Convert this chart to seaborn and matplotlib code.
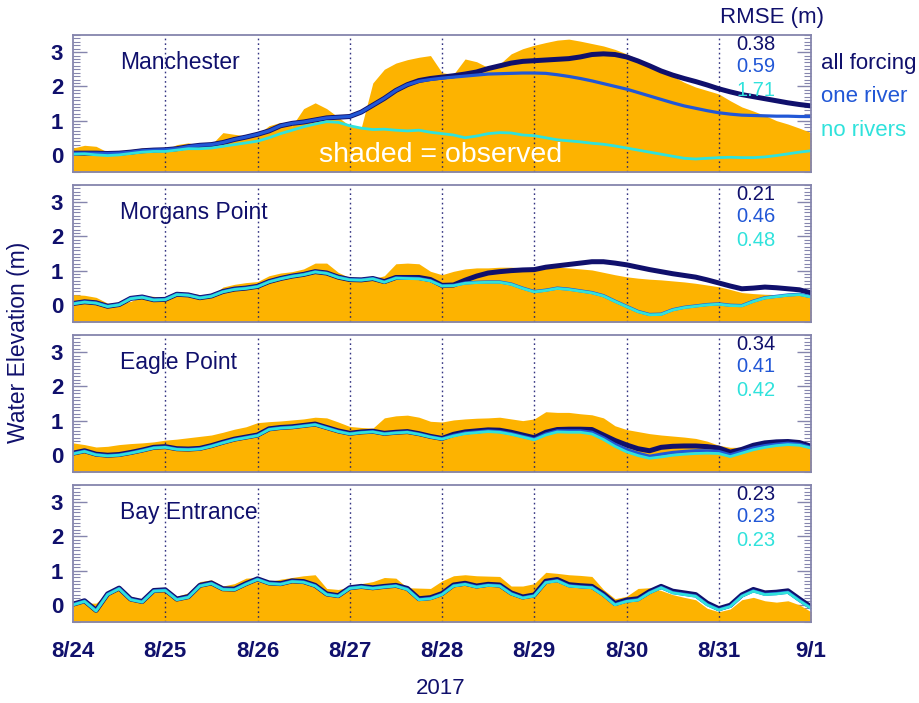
import numpy as np
import pandas as pd
import matplotlib
matplotlib.use("Agg")
import matplotlib.pyplot as plt
import seaborn as sns
from matplotlib.ticker import MultipleLocator

# ---------------------------------------------------------------- data
# 3-hourly samples, in days since 8/24 00:00 (2017)
days = np.arange(65) / 8.0
day_labels = ["8/24", "8/25", "8/26", "8/27", "8/28", "8/29", "8/30", "8/31", "9/1"]

stations = ["Manchester", "Morgans Point", "Eagle Point", "Bay Entrance"]
runs = ["all forcing", "one river", "no rivers"]

rmse_all = [0.38, 0.21, 0.34, 0.23]
rmse_one = [0.59, 0.46, 0.41, 0.23]
rmse_none = [1.71, 0.48, 0.42, 0.23]

# Manchester (m)
man_obs = [0.20, 0.28, 0.25, 0.08, 0.05, 0.15, 0.20, 0.18, 0.15, 0.30, 0.35, 0.28, 0.30,
           0.65, 0.60, 0.55, 0.60, 0.85, 0.95, 0.85, 1.35, 1.52, 1.35, 1.10, 0.85, 0.80,
           2.10, 2.50, 2.68, 2.78, 2.85, 2.90, 2.40, 2.35, 2.80, 2.72, 2.55, 2.65, 2.95,
           3.10, 3.20, 3.28, 3.35, 3.38, 3.32, 3.25, 3.18, 3.08, 2.95, 2.80, 2.62, 2.45,
           2.30, 2.12, 1.98, 1.88, 1.78, 1.58, 1.40, 1.28, 1.15, 1.00, 0.90, 0.78, 0.65]
man_all = [0.05, 0.05, 0.05, 0.04, 0.05, 0.08, 0.12, 0.14, 0.15, 0.18, 0.24, 0.28, 0.30,
           0.36, 0.45, 0.52, 0.60, 0.70, 0.85, 0.92, 0.96, 1.02, 1.08, 1.10, 1.12, 1.25,
           1.45, 1.65, 1.88, 2.05, 2.17, 2.23, 2.27, 2.31, 2.36, 2.42, 2.52, 2.60, 2.68,
           2.73, 2.75, 2.77, 2.79, 2.81, 2.86, 2.93, 2.95, 2.93, 2.86, 2.74, 2.60, 2.45,
           2.33, 2.23, 2.14, 2.04, 1.93, 1.84, 1.76, 1.70, 1.64, 1.58, 1.52, 1.47, 1.43]
man_one = [0.05, 0.05, 0.05, 0.04, 0.05, 0.08, 0.12, 0.14, 0.15, 0.18, 0.24, 0.28, 0.30,
           0.36, 0.45, 0.52, 0.60, 0.70, 0.85, 0.92, 0.96, 1.02, 1.08, 1.10, 1.12, 1.25,
           1.45, 1.65, 1.88, 2.05, 2.15, 2.20, 2.24, 2.27, 2.30, 2.33, 2.36, 2.37, 2.38,
           2.39, 2.39, 2.38, 2.34, 2.29, 2.23, 2.16, 2.08, 2.00, 1.92, 1.82, 1.72, 1.62,
           1.52, 1.43, 1.36, 1.29, 1.23, 1.19, 1.16, 1.15, 1.14, 1.13, 1.13, 1.12, 1.12]
man_none = [0.02, 0.03, 0.00, -0.02, 0.00, 0.04, 0.08, 0.10, 0.10, 0.14, 0.18, 0.18, 0.20,
            0.25, 0.30, 0.35, 0.40, 0.50, 0.62, 0.72, 0.82, 0.90, 0.97, 0.95, 0.85, 0.78,
            0.74, 0.75, 0.72, 0.70, 0.72, 0.66, 0.62, 0.58, 0.50, 0.55, 0.62, 0.65, 0.64,
            0.58, 0.56, 0.50, 0.44, 0.41, 0.38, 0.34, 0.31, 0.26, 0.20, 0.14, 0.08, 0.02,
            -0.04, -0.10, -0.12, -0.10, -0.08, -0.07, -0.08, -0.08, -0.06, -0.02, 0.03, 0.08, 0.12]

# Morgans Point (m)
mor_obs = [0.30, 0.28, 0.22, 0.05, 0.05, 0.10, 0.25, 0.25, 0.17, 0.30, 0.35, 0.30, 0.25,
           0.52, 0.60, 0.65, 0.68, 0.85, 0.93, 0.97, 1.05, 1.22, 1.22, 0.95, 0.79, 0.78,
           0.76, 0.85, 1.20, 1.22, 1.20, 0.98, 0.88, 0.98, 1.05, 1.08, 1.08, 1.10, 1.10,
           1.08, 1.10, 1.10, 1.10, 1.08, 1.05, 1.02, 0.95, 0.88, 0.82, 0.78, 0.75, 0.73,
           0.70, 0.67, 0.63, 0.58, 0.53, 0.45, 0.36, 0.33, 0.31, 0.30, 0.30, 0.30, 0.30]
mor_all = [0.04, 0.09, 0.06, -0.04, 0.01, 0.19, 0.23, 0.15, 0.16, 0.31, 0.29, 0.21, 0.26,
           0.39, 0.46, 0.49, 0.54, 0.68, 0.77, 0.84, 0.89, 0.97, 0.93, 0.81, 0.74, 0.73,
           0.77, 0.68, 0.80, 0.80, 0.80, 0.74, 0.57, 0.58, 0.72, 0.84, 0.93, 0.97, 1.00,
           1.02, 1.03, 1.10, 1.14, 1.18, 1.22, 1.26, 1.26, 1.22, 1.17, 1.10, 1.03, 0.97,
           0.91, 0.86, 0.81, 0.73, 0.64, 0.55, 0.47, 0.49, 0.52, 0.50, 0.47, 0.44, 0.35]
mor_one = [0.04, 0.09, 0.06, -0.04, 0.01, 0.19, 0.23, 0.15, 0.16, 0.31, 0.29, 0.21, 0.26,
           0.39, 0.46, 0.49, 0.54, 0.68, 0.77, 0.84, 0.89, 0.97, 0.93, 0.81, 0.74, 0.73,
           0.77, 0.67, 0.79, 0.78, 0.77, 0.71, 0.56, 0.57, 0.64, 0.66, 0.67, 0.67, 0.61,
           0.49, 0.39, 0.43, 0.49, 0.46, 0.41, 0.36, 0.27, 0.11, -0.04, -0.19, -0.28, -0.27,
           -0.14, -0.07, -0.03, 0.01, 0.03, -0.01, -0.02, 0.11, 0.21, 0.25, 0.29, 0.31, 0.24]
mor_none = [0.03, 0.08, 0.05, -0.05, 0.00, 0.18, 0.22, 0.14, 0.15, 0.30, 0.28, 0.20, 0.25,
            0.38, 0.45, 0.48, 0.53, 0.67, 0.76, 0.83, 0.88, 0.96, 0.92, 0.80, 0.73, 0.72,
            0.76, 0.66, 0.78, 0.77, 0.76, 0.70, 0.55, 0.56, 0.63, 0.65, 0.66, 0.66, 0.60,
            0.48, 0.38, 0.42, 0.48, 0.45, 0.40, 0.35, 0.26, 0.10, -0.05, -0.20, -0.29, -0.28,
            -0.15, -0.08, -0.04, 0.00, 0.02, -0.02, -0.03, 0.10, 0.20, 0.24, 0.28, 0.30, 0.23]

# Eagle Point (m)
eag_obs = [0.35, 0.30, 0.23, 0.25, 0.30, 0.33, 0.35, 0.38, 0.43, 0.46, 0.50, 0.54, 0.58,
           0.66, 0.75, 0.82, 0.94, 0.97, 0.99, 1.02, 1.05, 1.10, 1.08, 0.96, 0.83, 0.80,
           0.78, 1.08, 1.14, 1.16, 1.10, 0.98, 0.96, 1.02, 1.05, 1.07, 1.08, 1.10, 1.05,
           1.00, 1.05, 1.26, 1.24, 1.24, 1.20, 1.17, 1.08, 0.85, 0.74, 0.68, 0.62, 0.58,
           0.55, 0.52, 0.48, 0.40, 0.28, 0.22, 0.22, 0.26, 0.30, 0.33, 0.35, 0.33, 0.25]
eag_all = [0.05, 0.12, 0.02, -0.01, 0.01, 0.07, 0.14, 0.22, 0.24, 0.18, 0.17, 0.19, 0.27,
           0.37, 0.46, 0.52, 0.58, 0.76, 0.80, 0.82, 0.86, 0.90, 0.80, 0.70, 0.63, 0.67,
           0.69, 0.63, 0.66, 0.68, 0.62, 0.54, 0.48, 0.60, 0.67, 0.70, 0.73, 0.72, 0.66,
           0.58, 0.50, 0.66, 0.74, 0.75, 0.75, 0.74, 0.58, 0.42, 0.29, 0.18, 0.12, 0.22,
           0.25, 0.26, 0.26, 0.24, 0.20, 0.08, 0.16, 0.28, 0.35, 0.38, 0.39, 0.36, 0.25]
eag_one = [0.04, 0.11, 0.01, -0.02, 0.00, 0.06, 0.13, 0.21, 0.23, 0.17, 0.16, 0.18, 0.26,
           0.36, 0.45, 0.51, 0.57, 0.75, 0.79, 0.81, 0.85, 0.89, 0.79, 0.69, 0.62, 0.66,
           0.68, 0.62, 0.65, 0.67, 0.61, 0.53, 0.47, 0.57, 0.64, 0.67, 0.70, 0.68, 0.62,
           0.54, 0.46, 0.61, 0.70, 0.70, 0.70, 0.66, 0.50, 0.31, 0.16, 0.05, -0.04, 0.02,
           0.07, 0.10, 0.12, 0.12, 0.10, 0.00, 0.10, 0.20, 0.27, 0.31, 0.34, 0.31, 0.22]
eag_none = [0.03, 0.10, 0.00, -0.03, -0.01, 0.05, 0.12, 0.20, 0.22, 0.16, 0.15, 0.17, 0.25,
            0.35, 0.44, 0.50, 0.56, 0.74, 0.78, 0.80, 0.84, 0.88, 0.78, 0.68, 0.61, 0.65,
            0.67, 0.61, 0.64, 0.66, 0.60, 0.52, 0.46, 0.55, 0.62, 0.65, 0.68, 0.66, 0.60,
            0.52, 0.44, 0.58, 0.67, 0.66, 0.66, 0.61, 0.45, 0.25, 0.09, -0.02, -0.10, -0.06,
            -0.01, 0.02, 0.04, 0.05, 0.04, -0.05, 0.05, 0.15, 0.22, 0.27, 0.30, 0.28, 0.20]

# Bay Entrance (m)
bay_obs = [0.10, 0.05, 0.05, 0.35, 0.48, 0.25, 0.15, 0.48, 0.42, 0.25, 0.35, 0.68, 0.73,
           0.55, 0.62, 0.78, 0.80, 0.68, 0.75, 0.80, 0.85, 0.88, 0.48, 0.45, 0.52, 0.62,
           0.68, 0.80, 0.78, 0.50, 0.49, 0.48, 0.70, 0.85, 0.88, 0.85, 0.84, 0.83, 0.55,
           0.55, 0.62, 0.95, 0.92, 0.88, 0.86, 0.83, 0.45, 0.18, 0.25, 0.48, 0.50, 0.42,
           0.30, 0.22, 0.15, -0.10, -0.20, -0.12, 0.15, 0.22, 0.12, 0.08, 0.12, 0.00, -0.20]
bay_all = [0.02, 0.12, -0.16, 0.32, 0.49, 0.17, 0.10, 0.42, 0.44, 0.17, 0.24, 0.57, 0.64,
           0.47, 0.46, 0.62, 0.76, 0.64, 0.62, 0.70, 0.68, 0.57, 0.32, 0.27, 0.50, 0.54,
           0.50, 0.54, 0.57, 0.48, 0.18, 0.21, 0.33, 0.58, 0.63, 0.55, 0.60, 0.58, 0.35,
           0.23, 0.29, 0.69, 0.74, 0.59, 0.56, 0.54, 0.32, 0.04, 0.14, 0.18, 0.39, 0.54,
           0.40, 0.35, 0.30, 0.05, -0.11, -0.01, 0.29, 0.45, 0.35, 0.37, 0.41, 0.17, -0.06]
bay_one = [0.01, 0.11, -0.17, 0.31, 0.48, 0.16, 0.09, 0.41, 0.43, 0.16, 0.23, 0.56, 0.63,
           0.46, 0.45, 0.61, 0.75, 0.63, 0.61, 0.69, 0.67, 0.56, 0.31, 0.26, 0.49, 0.53,
           0.49, 0.53, 0.56, 0.46, 0.16, 0.19, 0.31, 0.56, 0.61, 0.53, 0.58, 0.56, 0.33,
           0.21, 0.27, 0.66, 0.71, 0.56, 0.53, 0.51, 0.29, 0.01, 0.11, 0.15, 0.36, 0.51,
           0.36, 0.31, 0.26, 0.01, -0.14, -0.04, 0.26, 0.41, 0.31, 0.33, 0.37, 0.13, -0.09]
bay_none = [0.00, 0.10, -0.18, 0.30, 0.47, 0.15, 0.08, 0.40, 0.42, 0.15, 0.22, 0.55, 0.62,
            0.45, 0.44, 0.60, 0.74, 0.62, 0.60, 0.68, 0.66, 0.55, 0.30, 0.25, 0.48, 0.52,
            0.48, 0.52, 0.55, 0.45, 0.15, 0.18, 0.30, 0.55, 0.60, 0.52, 0.57, 0.55, 0.32,
            0.20, 0.26, 0.65, 0.70, 0.55, 0.52, 0.50, 0.28, 0.00, 0.10, 0.14, 0.35, 0.50,
            0.35, 0.30, 0.25, 0.00, -0.15, -0.05, 0.25, 0.40, 0.30, 0.32, 0.36, 0.12, -0.10]

observed = [man_obs, mor_obs, eag_obs, bay_obs]
modelled = [
    [man_all, man_one, man_none],
    [mor_all, mor_one, mor_none],
    [eag_all, eag_one, eag_none],
    [bay_all, bay_one, bay_none],
]
rmse = [rmse_all, rmse_one, rmse_none]

# ---------------------------------------------------------------- style
NAVY = "#10106c"
BLUE = "#2157d6"
CYAN = "#30e2dc"
ORANGE = "#fdb300"
FRAME = "#8585ad"
run_colors = [NAVY, BLUE, CYAN]
run_widths = [3.6, 2.3, 2.0]

sns.set_theme(style="white")
plt.rcParams["font.family"] = ["Liberation Sans", "DejaVu Sans"]

W, H = 920, 703
fig = plt.figure(figsize=(W / 100, H / 100), dpi=100)


def fig_xy(px, py):
    """Pixel position (from top-left) to figure fraction."""
    return px / W, 1 - py / H


left_px, right_px = 73, 811
tops = [35, 185, 335, 485]
height_px = 137
rmse_rows = [1 - 9 / height_px, 1 - 32 / height_px, 1 - 55 / height_px]

axes = []
for i, station in enumerate(stations):
    top = tops[i]
    ax = fig.add_axes([left_px / W, 1 - (top + height_px) / H,
                       (right_px - left_px) / W, height_px / H])
    axes.append(ax)

    # observed water level as the shaded area
    ax.fill_between(days, -0.5, observed[i], color=ORANGE, lw=0, zorder=1)

    # day separators
    for d in range(1, 8):
        ax.axvline(d, color=NAVY, lw=1.0, ls=(0, (1.2, 2.2)), alpha=0.85, zorder=2)

    # modelled series
    for k, run in enumerate(runs):
        df = pd.DataFrame({"day": days, "elev": modelled[i][k]})
        sns.lineplot(data=df, x="day", y="elev", ax=ax, color=run_colors[k],
                     lw=run_widths[k], legend=False, zorder=3 + k,
                     solid_capstyle="round", solid_joinstyle="round")

    ax.set_xlim(0, 8)
    ax.set_ylim(-0.5, 3.5)
    ax.set_xlabel("")
    ax.set_ylabel("")
    ax.set_xticks(range(9))
    ax.yaxis.set_major_locator(MultipleLocator(1))
    ax.yaxis.set_minor_locator(MultipleLocator(0.1))
    ax.set_yticks([0, 1, 2, 3])
    ax.set_yticklabels(["0", "1", "2", "3"], fontsize=16, color=NAVY,
                       fontweight="bold")
    ax.tick_params(axis="y", which="major", direction="in", left=True, right=True,
                   length=10, width=1.0, color=FRAME, pad=7)
    ax.tick_params(axis="y", which="minor", direction="in", left=True, right=True,
                   length=5, width=0.8, color=FRAME)
    ax.tick_params(axis="x", length=0, pad=14)
    if i < 3:
        ax.set_xticklabels([])
    else:
        ax.set_xticklabels(day_labels, fontsize=16, color=NAVY, fontweight="bold")
    for sp in ax.spines.values():
        sp.set_color(FRAME)
        sp.set_linewidth(1.3)
        sp.set_visible(True)
        sp.set_zorder(10)

    ax.text(0.064, 0.80, station, transform=ax.transAxes, fontsize=16.5,
            color=NAVY, ha="left", va="center")
    for k in range(3):
        ax.text(0.925, rmse_rows[k], f"{rmse[k][i]:.2f}", transform=ax.transAxes,
                fontsize=14.5, color=run_colors[k], ha="center", va="center", zorder=8)

# header and run labels
fig.text(*fig_xy(772, 17), "RMSE (m)", fontsize=16, color=NAVY,
         ha="center", va="center")
for k, (run, y) in enumerate(zip(runs, [63, 97, 130])):
    fig.text(*fig_xy(821, y), run, fontsize=16, color=run_colors[k],
             ha="left", va="center")

fig.text(*fig_xy(441, 155), "shaded = observed", fontsize=20.5, color="white",
         ha="center", va="center", zorder=20)

fig.text(*fig_xy(19, 342), "Water Elevation (m)", fontsize=16.5, color=NAVY,
         rotation=90, ha="center", va="center")
fig.text(*fig_xy(441, 688), "2017", fontsize=16, color=NAVY,
         ha="center", va="center")

fig.savefig("out.png", dpi=100)
